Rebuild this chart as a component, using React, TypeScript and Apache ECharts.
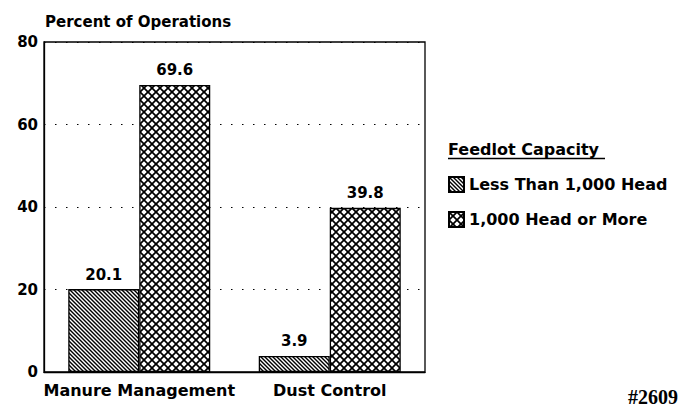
import React, { useEffect, useRef } from "react";
import * as echarts from "echarts";

const categories = ["Manure Management", "Dust Control"];
const seriesNames = ["Less Than 1,000 Head", "1,000 Head or More"];
const lessThan1000 = [20.1, 3.9];
const moreThan1000 = [69.6, 39.8];
const yTicks = [0, 20, 40, 60, 80];

const FONT = "DejaVu Sans";

function makePattern(kind: "hatch" | "cross") {
  const c = document.createElement("canvas");
  const p = kind === "hatch" ? 4 : 8;
  c.width = p;
  c.height = p;
  const ctx = c.getContext("2d")!;
  ctx.fillStyle = "#fff";
  ctx.fillRect(0, 0, p, p);
  ctx.strokeStyle = "#000";
  ctx.lineWidth = kind === "hatch" ? 1.4 : 1.7;
  for (const k of [-p, 0, p]) {
    ctx.beginPath();
    ctx.moveTo(k - 1, -1);
    ctx.lineTo(k + p + 1, p + 1);
    ctx.stroke();
    if (kind === "cross") {
      ctx.beginPath();
      ctx.moveTo(k + p + 1, -1);
      ctx.lineTo(k - 1, p + 1);
      ctx.stroke();
    }
  }
  return { image: c, repeat: "repeat", imageWidth: p, imageHeight: p } as any;
}

export default function App() {
  const ref = useRef<HTMLDivElement>(null);
  useEffect(() => {
    if (!ref.current) return;
    document.body.style.margin = "0";
    const chart = echarts.init(ref.current, null, { renderer: "svg" });
    const labelStyle = {
      show: true,
      position: "top",
      distance: 7,
      color: "#000",
      fontFamily: FONT,
      fontWeight: "bold",
      fontSize: 15,
      formatter: (p: any) => Number(p.value).toFixed(1),
    };
    chart.setOption({
      animation: false,
      backgroundColor: "#fff",
      title: {
        text: "Percent of Operations",
        left: 40,
        top: 9,
        textStyle: { fontFamily: FONT, fontWeight: "bold", fontSize: 15, color: "#000" },
      },
      grid: {
        left: 44,
        right: 262,
        top: 42,
        bottom: 38,
        show: true,
        borderColor: "#000",
        borderWidth: 1.3,
        backgroundColor: "transparent",
      },
      legend: {
        orient: "vertical",
        left: 448,
        top: 176,
        padding: 0,
        itemWidth: 15,
        itemHeight: 15,
        itemGap: 18,
        icon: "rect",
        data: seriesNames,
        textStyle: { fontFamily: FONT, fontWeight: "bold", fontSize: 16, color: "#000", lineHeight: 16 },
      },
      xAxis: {
        type: "category",
        data: categories,
        axisTick: { show: false },
        axisLine: { lineStyle: { color: "#000", width: 1.3 } },
        axisLabel: { color: "#000", fontFamily: FONT, fontWeight: "bold", fontSize: 16, margin: 10, interval: 0 },
      },
      yAxis: {
        type: "value",
        min: yTicks[0],
        max: yTicks[yTicks.length - 1],
        interval: 20,
        axisLine: { show: true, lineStyle: { color: "#000", width: 1.3 } },
        axisTick: { show: false },
        axisLabel: { color: "#000", fontFamily: FONT, fontWeight: "bold", fontSize: 15, margin: 6 },
        splitLine: { show: true, lineStyle: { color: "#000", width: 1, type: [1.5, 9.5] } },
      },
      series: [
        {
          name: seriesNames[0],
          type: "bar",
          data: lessThan1000,
          barWidth: 71,
          barGap: "0%",
          itemStyle: { color: makePattern("hatch"), borderColor: "#000", borderWidth: 1.3 },
          label: labelStyle,
        },
        {
          name: seriesNames[1],
          type: "bar",
          data: moreThan1000,
          barWidth: 71,
          barGap: "0%",
          itemStyle: { color: makePattern("cross"), borderColor: "#000", borderWidth: 1.3 },
          label: labelStyle,
        },
      ],
      graphic: [
        {
          type: "text",
          left: 448,
          top: 141,
          style: { text: "Feedlot Capacity", fontFamily: FONT, fontWeight: "bold", fontSize: 16, fill: "#000" },
        },
        {
          type: "line",
          shape: { x1: 448, y1: 158.5, x2: 605, y2: 158.5 },
          style: { stroke: "#000", lineWidth: 1.3 },
        },
        {
          type: "text",
          right: 9,
          top: 387,
          style: { text: "#2609", fontFamily: "Liberation Serif", fontWeight: "bold", fontSize: 20, fill: "#000" },
        },
      ],
    });
    return () => chart.dispose();
  }, []);
  return <div ref={ref} style={{ width: 687, height: 410 }} />;
}
